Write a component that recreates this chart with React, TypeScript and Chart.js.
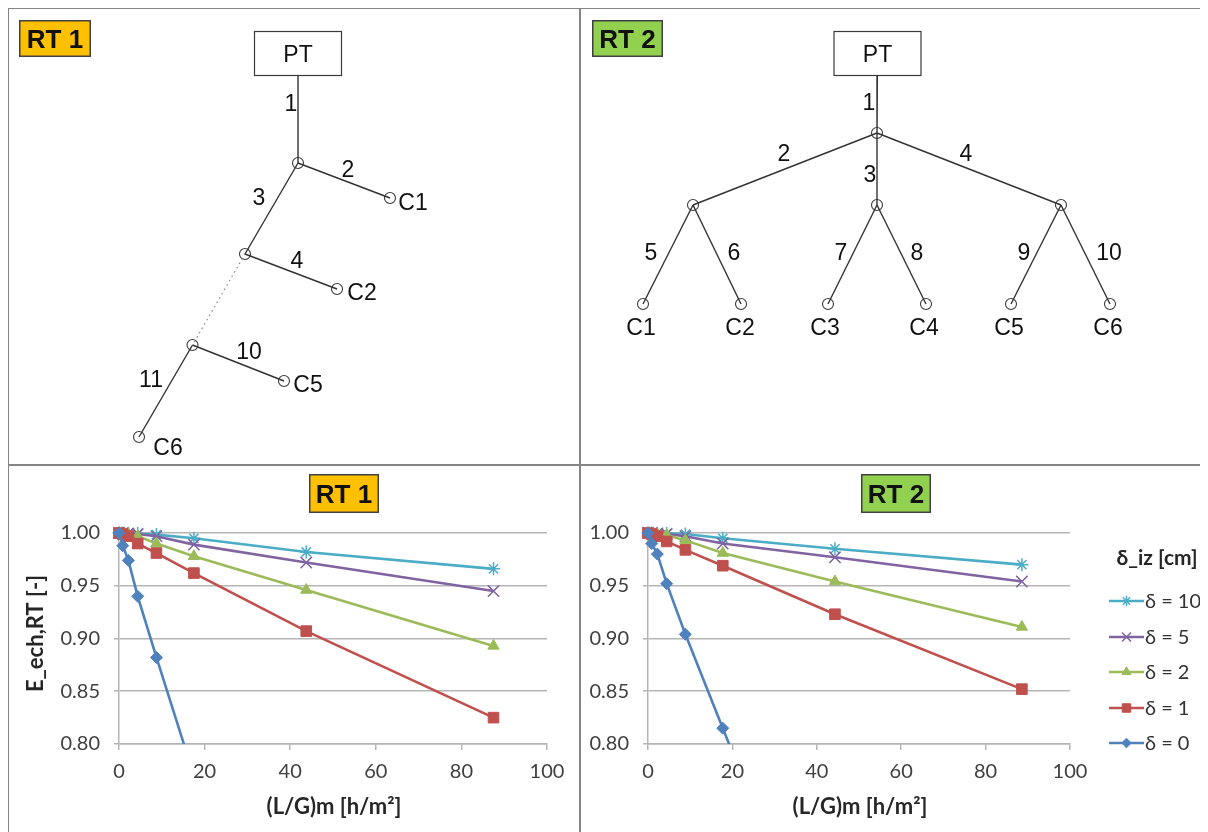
import React, { useEffect, useRef } from "react";
import { Chart, registerables } from "chart.js";
import { drawPoint } from "chart.js/helpers";

Chart.register(...registerables);

// ---------------- Performance chart data ----------------
const xRT1 = [0, 0.875, 2.19, 4.375, 8.75, 17.5, 43.75, 87.5];
const xRT2 = [0, 0.886, 2.215, 4.43, 8.86, 17.72, 44.3, 88.6];
const legendLabels = ["δ = 10", "δ = 5", "δ = 2", "δ = 1", "δ = 0"];
const legendTitle = "δ_iz [cm]";
const xTitle = "(L/G)m [h/m²]";
const yTitle = "E_ech,RT [-]";

const rt1Delta10 = [1.0, 1.0, 0.9998, 0.9995, 0.9985, 0.995, 0.982, 0.966];
const rt1Delta5 = [1.0, 0.9998, 0.9995, 0.999, 0.997, 0.989, 0.972, 0.945];
const rt1Delta2 = [1.0, 0.9995, 0.999, 0.997, 0.99, 0.978, 0.946, 0.893];
const rt1Delta1 = [1.0, 0.999, 0.997, 0.99, 0.981, 0.962, 0.907, 0.825];
const rt1Delta0 = [1.0, 0.988, 0.974, 0.94, 0.882, 0.77];

const rt2Delta10 = [1.0, 1.0, 0.9998, 0.9995, 0.999, 0.995, 0.985, 0.97];
const rt2Delta5 = [1.0, 0.9998, 0.9996, 0.999, 0.997, 0.99, 0.977, 0.954];
const rt2Delta2 = [1.0, 0.9996, 0.999, 0.998, 0.993, 0.981, 0.954, 0.911];
const rt2Delta1 = [1.0, 0.999, 0.997, 0.992, 0.984, 0.969, 0.923, 0.852];
const rt2Delta0 = [1.0, 0.99, 0.98, 0.952, 0.904, 0.815, 0.55];

// ---------------- Tree diagram data (node layout of the pipe networks) ----------------
const rt1NodeIds = ["PT", "J1", "C1", "J2", "C2", "J3", "C5", "C6"];
const rt1NodeX = [298, 298, 390, 245, 337, 192.5, 284, 139];
const rt1NodeY = [53.5, 163, 198, 254, 289, 345, 381, 437];
const rt1Edges = [["PT", "J1"], ["J1", "C1"], ["J1", "J2"], ["J2", "C2"], ["J3", "C5"], ["J3", "C6"]];
const rt1DottedEdges = [["J2", "J3"]];
const rt1EdgeLabels = ["1", "2", "3", "4", "10", "11"];
const rt1EdgeLabelX = [291, 348, 259, 297, 249, 151];
const rt1EdgeLabelY = [103, 169, 197, 260, 351, 379];
const rt1LeafLabels = ["C1", "C2", "C5", "C6"];
const rt1LeafLabelX = [413, 362, 308, 168];
const rt1LeafLabelY = [202, 292, 384, 447];

const rt2NodeIds = ["PT", "J1", "J2", "J3", "J4", "C1", "C2", "C3", "C4", "C5", "C6"];
const rt2NodeX = [877.5, 877, 693, 877, 1061, 643, 741, 828, 926, 1011, 1110];
const rt2NodeY = [53.5, 133, 205, 205, 205, 304, 304, 304, 304, 304, 304];
const rt2Edges = [
  ["PT", "J1"], ["J1", "J2"], ["J1", "J3"], ["J1", "J4"],
  ["J2", "C1"], ["J2", "C2"], ["J3", "C3"], ["J3", "C4"], ["J4", "C5"], ["J4", "C6"],
];
const rt2DottedEdges: string[][] = [];
const rt2EdgeLabels = ["1", "2", "3", "4", "5", "6", "7", "8", "9", "10"];
const rt2EdgeLabelX = [869, 784, 870, 966, 651, 734, 841, 917, 1024, 1109];
const rt2EdgeLabelY = [102, 153, 174, 153, 252, 252, 252, 252, 252, 252];
const rt2LeafLabels = ["C1", "C2", "C3", "C4", "C5", "C6"];
const rt2LeafLabelX = [641, 740, 825, 924, 1009, 1108];
const rt2LeafLabelY = [327, 327, 327, 327, 327, 327];

// ---------------- Styles ----------------
const SERIES_STYLES = [
  { color: "#4BACC6", point: "star", r: 6.5, fill: "rgba(0,0,0,0)", bw: 1.5 },
  { color: "#8064A2", point: "crossRot", r: 8, fill: "rgba(0,0,0,0)", bw: 1.5 },
  { color: "#9BBB59", point: "triangle", r: 6.5, fill: "#9BBB59", bw: 1 },
  { color: "#C0504D", point: "rect", r: 7.5, fill: "#C0504D", bw: 1 },
  { color: "#4F81BD", point: "rectRot", r: 6, fill: "#4F81BD", bw: 1 },
];
const ARIAL = '"Liberation Sans", Arial, sans-serif';
const LATO = 'Lato, "Open Sans", sans-serif';
const GRID = "#b5b5b5";
const ORANGE = "#FFC000";
const GREEN = "#92D050";

function textAtCenter(ctx: CanvasRenderingContext2D, text: string, cx: number, cy: number, size: number, family: string, bold = false, color = "#111", align: CanvasTextAlign = "center") {
  ctx.save();
  ctx.font = `${bold ? "bold " : ""}${size}px ${family}`;
  ctx.fillStyle = color;
  ctx.textAlign = align;
  ctx.textBaseline = "alphabetic";
  ctx.fillText(text, cx, cy + size * 0.358);
  ctx.restore();
}

function drawBadge(ctx: CanvasRenderingContext2D, x: number, y: number, w: number, h: number, fill: string, text: string) {
  ctx.save();
  ctx.fillStyle = fill;
  ctx.fillRect(x, y, w, h);
  ctx.strokeStyle = "#404040";
  ctx.lineWidth = 1.5;
  ctx.strokeRect(x + 0.75, y + 0.75, w - 1.5, h - 1.5);
  ctx.restore();
  textAtCenter(ctx, text, x + w / 2, y + h / 2, 26, ARIAL, true, "#111");
}

type TreeSpec = {
  ids: string[]; xs: number[]; ys: number[];
  edges: string[][]; dotted: string[][];
  edgeLabels: string[]; edgeLabelX: number[]; edgeLabelY: number[];
  leafLabels: string[]; leafLabelX: number[]; leafLabelY: number[];
  box: { w: number; h: number };
  badge: { x: number; y: number; w: number; h: number; fill: string; text: string };
  xMin: number; xMax: number;
};

function treeConfig(t: TreeSpec): any {
  const pos: Record<string, { x: number; y: number }> = {};
  t.ids.forEach((id, i) => (pos[id] = { x: t.xs[i], y: t.ys[i] }));
  const datasets: any[] = [];
  t.edges.forEach(([a, b]) =>
    datasets.push({ data: [pos[a], pos[b]], showLine: true, borderColor: "#333", borderWidth: 1.4, pointRadius: 0, clip: false })
  );
  t.dotted.forEach(([a, b]) =>
    datasets.push({ data: [pos[a], pos[b]], showLine: true, borderColor: "#8a8a8a", borderWidth: 1.2, borderDash: [1.5, 3.5], pointRadius: 0, clip: false })
  );
  datasets.push({
    data: t.ids.filter((id) => id !== "PT").map((id) => pos[id]),
    showLine: false,
    pointRadius: 5.5,
    pointStyle: "circle",
    pointBorderColor: "#3a3a3a",
    pointBackgroundColor: "rgba(0,0,0,0)",
    pointBorderWidth: 1.1,
    clip: false,
  });
  const plugin = {
    id: "treeDecor",
    afterDatasetsDraw(chart: any) {
      const ctx: CanvasRenderingContext2D = chart.ctx;
      const sx = chart.scales.x, sy = chart.scales.y;
      const px = (v: number) => sx.getPixelForValue(v);
      const py = (v: number) => sy.getPixelForValue(v);
      const root = pos["PT"];
      const bx = px(root.x - t.box.w / 2), by = py(root.y - t.box.h / 2);
      ctx.save();
      ctx.fillStyle = "#fff";
      ctx.fillRect(bx, by, t.box.w, t.box.h);
      ctx.strokeStyle = "#3a3a3a";
      ctx.lineWidth = 1.2;
      ctx.strokeRect(bx + 0.5, by + 0.5, t.box.w - 1, t.box.h - 1);
      ctx.restore();
      textAtCenter(ctx, "PT", px(root.x), py(root.y), 23, ARIAL, false, "#111");
      t.edgeLabels.forEach((s, i) => textAtCenter(ctx, s, px(t.edgeLabelX[i]), py(t.edgeLabelY[i]), 23, ARIAL, false, "#111"));
      t.leafLabels.forEach((s, i) => textAtCenter(ctx, s, px(t.leafLabelX[i]), py(t.leafLabelY[i]), 23, ARIAL, false, "#111"));
      const b = t.badge;
      drawBadge(ctx, px(b.x), py(b.y), b.w, b.h, b.fill, b.text);
    },
  };
  return {
    type: "scatter",
    data: { datasets },
    options: {
      animation: false,
      responsive: false,
      events: [],
      layout: { padding: 0, autoPadding: false },
      plugins: { legend: { display: false }, tooltip: { enabled: false } },
      scales: {
        x: { type: "linear", min: t.xMin, max: t.xMax, display: false },
        y: { type: "linear", min: 8, max: 465, reverse: true, display: false },
      },
    },
    plugins: [plugin],
  };
}

type PerfSpec = {
  xs: number[];
  series: number[][]; // legend order: δ=10, 5, 2, 1, 0
  yAxisWidth: number;
  padRight: number;
  badge: { x: number; y: number; w: number; h: number; fill: string; text: string };
  showYTitle: boolean;
  showLegend: boolean;
};

function perfConfig(s: PerfSpec): any {
  const drawOrder = [4, 3, 2, 1, 0];
  const datasets = drawOrder.map((i) => {
    const st = SERIES_STYLES[i];
    return {
      label: legendLabels[i],
      data: s.series[i].map((v, j) => ({ x: s.xs[j], y: v })),
      showLine: true,
      borderColor: st.color,
      backgroundColor: st.color,
      borderWidth: 2.6,
      pointStyle: st.point,
      pointRadius: st.r,
      pointBorderColor: st.color,
      pointBackgroundColor: st.fill,
      pointBorderWidth: st.bw,
      clip: { left: 14, top: 14, right: 14, bottom: 0 },
    };
  });
  const tickFont = { family: LATO, size: 20 };
  const plugin = {
    id: "perfDecor",
    afterDraw(chart: any) {
      const ctx: CanvasRenderingContext2D = chart.ctx;
      const a = chart.chartArea;
      const b = s.badge;
      drawBadge(ctx, b.x, b.y, b.w, b.h, b.fill, b.text);
      textAtCenter(ctx, xTitle, (a.left + a.right) / 2 + 1, 341, 22, LATO, true, "#262626");
      if (s.showYTitle) {
        ctx.save();
        ctx.translate(27, (a.top + a.bottom) / 2 - 5);
        ctx.rotate(-Math.PI / 2);
        textAtCenter(ctx, yTitle, 0, 0, 22, LATO, true, "#262626");
        ctx.restore();
      }
      if (s.showLegend) {
        textAtCenter(ctx, legendTitle, 577, 92, 21, LATO, true, "#262626");
        const ys = [136, 172, 207, 243, 278];
        legendLabels.forEach((lab, i) => {
          const st = SERIES_STYLES[i];
          const y = ys[i];
          ctx.save();
          ctx.strokeStyle = st.color;
          ctx.lineWidth = 2.6;
          ctx.beginPath();
          ctx.moveTo(529, y);
          ctx.lineTo(564, y);
          ctx.stroke();
          ctx.fillStyle = st.fill;
          ctx.strokeStyle = st.color;
          ctx.lineWidth = st.bw;
          drawPoint(ctx, { pointStyle: st.point as any, radius: st.r * 0.8, borderWidth: st.bw, rotation: 0 } as any, 546.5, y);
          ctx.restore();
          textAtCenter(ctx, lab, 565, y, 20, LATO, false, "#333", "left");
        });
      }
    },
  };
  return {
    type: "scatter",
    data: { datasets },
    options: {
      animation: false,
      responsive: false,
      events: [],
      layout: { padding: { left: 0, top: 68, right: s.padRight, bottom: 0 }, autoPadding: false },
      plugins: { legend: { display: false }, tooltip: { enabled: false }, title: { display: false } },
      scales: {
        x: {
          type: "linear",
          min: 0,
          max: 100,
          ticks: { stepSize: 20, font: tickFont, color: "#404040", padding: 10, maxRotation: 0 },
          grid: { drawOnChartArea: false, drawTicks: true, tickLength: 6, color: GRID, lineWidth: 1.5 },
          border: { display: true, color: GRID, width: 1.5 },
          afterFit: (sc: any) => { sc.height = 88; },
        },
        y: {
          type: "linear",
          min: 0.8,
          max: 1.0,
          ticks: { stepSize: 0.05, font: tickFont, color: "#404040", padding: 14, callback: (v: any) => Number(v).toFixed(2) },
          grid: { drawTicks: true, tickLength: 5, color: GRID, lineWidth: 1.5 },
          border: { display: true, color: GRID, width: 1.5 },
          afterFit: (sc: any) => { sc.width = s.yAxisWidth; },
        },
      },
    },
    plugins: [plugin],
  };
}

function ChartBox({ left, top, width, height, make }: { left: number; top: number; width: number; height: number; make: () => any }) {
  const ref = useRef<HTMLCanvasElement>(null);
  useEffect(() => {
    const chart = new Chart(ref.current as HTMLCanvasElement, make());
    return () => chart.destroy();
  }, []);
  return (
    <div style={{ position: "absolute", left: left - 8, top: top - 8, width, height }}>
      <canvas ref={ref} width={width} height={height} style={{ display: "block", width, height }} />
    </div>
  );
}

function Line({ left, top, width, height }: { left: number; top: number; width: number; height: number }) {
  return <div style={{ position: "absolute", left: left - 8, top: top - 8, width, height, background: "#858585" }} />;
}

export default function App() {
  const rt1Tree: TreeSpec = {
    ids: rt1NodeIds, xs: rt1NodeX, ys: rt1NodeY, edges: rt1Edges, dotted: rt1DottedEdges,
    edgeLabels: rt1EdgeLabels, edgeLabelX: rt1EdgeLabelX, edgeLabelY: rt1EdgeLabelY,
    leafLabels: rt1LeafLabels, leafLabelX: rt1LeafLabelX, leafLabelY: rt1LeafLabelY,
    box: { w: 88, h: 45 },
    badge: { x: 19, y: 20, w: 72, h: 37, fill: ORANGE, text: "RT 1" },
    xMin: 8, xMax: 580,
  };
  const rt2Tree: TreeSpec = {
    ids: rt2NodeIds, xs: rt2NodeX, ys: rt2NodeY, edges: rt2Edges, dotted: rt2DottedEdges,
    edgeLabels: rt2EdgeLabels, edgeLabelX: rt2EdgeLabelX, edgeLabelY: rt2EdgeLabelY,
    leafLabels: rt2LeafLabels, leafLabelX: rt2LeafLabelX, leafLabelY: rt2LeafLabelY,
    box: { w: 88, h: 45 },
    badge: { x: 592, y: 20, w: 71, h: 37, fill: GREEN, text: "RT 2" },
    xMin: 580, xMax: 1208,
  };
  const rt1Perf: PerfSpec = {
    xs: xRT1,
    series: [rt1Delta10, rt1Delta5, rt1Delta2, rt1Delta1, rt1Delta0],
    yAxisWidth: 111,
    padRight: 33,
    badge: { x: 301, y: 9, w: 70, h: 39, fill: ORANGE, text: "RT 1" },
    showYTitle: true,
    showLegend: false,
  };
  const rt2Perf: PerfSpec = {
    xs: xRT2,
    series: [rt2Delta10, rt2Delta5, rt2Delta2, rt2Delta1, rt2Delta0],
    yAxisWidth: 68,
    padRight: 138,
    badge: { x: 281, y: 9, w: 70, h: 39, fill: GREEN, text: "RT 2" },
    showYTitle: false,
    showLegend: true,
  };
  return (
    <div style={{ position: "relative", width: 1200, height: 824, background: "#fff", overflow: "hidden" }}>
      <ChartBox left={8} top={8} width={572} height={457} make={() => treeConfig(rt1Tree)} />
      <ChartBox left={580} top={8} width={628} height={457} make={() => treeConfig(rt2Tree)} />
      <ChartBox left={8} top={465} width={572} height={367} make={() => perfConfig(rt1Perf)} />
      <ChartBox left={580} top={465} width={628} height={367} make={() => perfConfig(rt2Perf)} />
      <Line left={7} top={7} width={1201} height={2} />
      <Line left={7} top={7} width={2} height={825} />
      <Line left={579} top={7} width={2} height={825} />
      <Line left={7} top={464} width={1201} height={2} />
    </div>
  );
}
